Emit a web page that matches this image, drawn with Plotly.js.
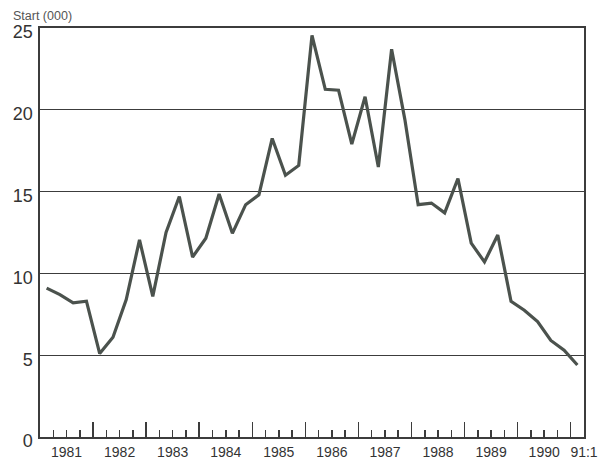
<!DOCTYPE html>
<html>
<head>
<meta charset="utf-8">
<script src="https://cdn.plot.ly/plotly-3.0.1.min.js"></script>
<style>html,body{margin:0;padding:0;background:#fff;}#chart{width:609px;height:459px;}</style>
</head>
<body>
<div id="chart"></div>
<script>
// Quarterly housing starts (thousands), 1981:1 to 1991:1
var years = [1981, 1982, 1983, 1984, 1985, 1986, 1987, 1988, 1989, 1990, 1991];
var quarterLabels = ["1981", "1982", "1983", "1984", "1985", "1986", "1987", "1988", "1989", "1990", "91:1"];
var starts = [
  9.1, 8.7, 8.2, 8.3,      // 1981
  5.1, 6.1, 8.4, 12.05,    // 1982
  8.6, 12.5, 14.7, 11.0,   // 1983
  12.15, 14.85, 12.45, 14.2, // 1984
  14.8, 18.25, 16.0, 16.6, // 1985
  24.55, 21.25, 21.2, 17.9, // 1986
  20.8, 16.5, 23.7, 19.4,  // 1987
  14.2, 14.3, 13.7, 15.8,  // 1988
  11.85, 10.7, 12.35, 8.3, // 1989
  7.75, 7.05, 5.9, 5.3,    // 1990
  4.4                      // 1991:1
];
var yTicks = [0, 5, 10, 15, 20, 25];

// quarter mid-points
var xq = starts.map(function (v, i) {
  var yr = years[0] + Math.floor(i / 4);
  var q = i % 4;
  return yr + (q + 0.5) / 4;
});
var first = years[0], last = years[years.length - 1];
var labelPos = years.map(function (y, i) { return i < years.length - 1 ? y + 0.5 : y + 0.25; });
var majorPos = years.slice(1);
var minorPos = [];
for (var y = first; y < last; y++) { minorPos.push(y + 0.25, y + 0.5, y + 0.75); }

var ink = '#3c3c3c';
var traces = [
  {x: xq, y: starts, mode: 'lines', line: {color: '#4b524d', width: 3.2}, hoverinfo: 'x+y', showlegend: false},
  {x: xq, y: starts, xaxis: 'x2', mode: 'lines', line: {color: 'rgba(0,0,0,0)', width: 0}, hoverinfo: 'skip', showlegend: false}
];
var layout = {
  width: 609, height: 459,
  margin: {l: 40, r: 25, t: 28, b: 22},
  paper_bgcolor: '#ffffff', plot_bgcolor: '#ffffff',
  font: {family: 'Liberation Sans, Arial, sans-serif', color: '#333'},
  title: {text: 'Start (000)', x: 13 / 609, xanchor: 'left', y: 1 - 16 / 459, yanchor: 'middle',
          font: {size: 12.5, color: '#555'}},
  xaxis: {
    range: [first, last + 0.25], showgrid: false, zeroline: false,
    showline: true, linecolor: ink, linewidth: 1.6, mirror: true,
    tickmode: 'array', tickvals: labelPos, ticktext: quarterLabels, ticks: '',
    tickfont: {size: 14, color: '#333'}, ticklabelstandoff: 2,
    minor: {tickmode: 'array', tickvals: minorPos, ticks: 'inside', ticklen: 7, tickwidth: 1.5, tickcolor: ink, showgrid: false},
    fixedrange: true
  },
  xaxis2: {
    overlaying: 'x', anchor: 'y', side: 'bottom',
    range: [first, last + 0.25], showgrid: false, zeroline: false, showline: false,
    tickmode: 'array', tickvals: majorPos, ticks: 'inside', ticklen: 15, tickwidth: 1.5, tickcolor: ink,
    showticklabels: false, fixedrange: true
  },
  yaxis: {
    range: [0, 25], tickmode: 'array', tickvals: yTicks, ticks: '',
    showgrid: true, gridcolor: ink, gridwidth: 1.3, zeroline: false,
    showline: true, linecolor: ink, linewidth: 1.6, mirror: true,
    tickfont: {size: 18, color: '#333'}, ticklabelstandoff: 2, ticklabelshift: 4,
    fixedrange: true
  }
};
Plotly.newPlot('chart', traces, layout, {displayModeBar: false, staticPlot: true});
</script>
</body>
</html>
